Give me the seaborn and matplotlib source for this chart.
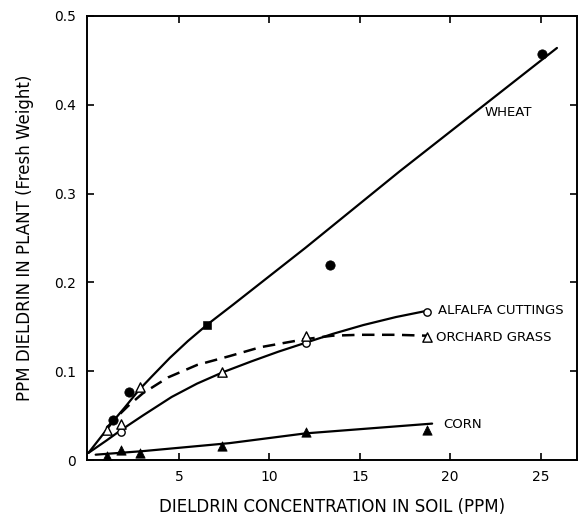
import numpy as np
import pandas as pd
import matplotlib
matplotlib.use("Agg")
import matplotlib.pyplot as plt
import seaborn as sns

# fitted curves
wheat_cx = [0.0, 0.5, 1.0, 1.5, 2.0, 2.8, 3.5, 4.5, 5.5, 6.6, 8.0, 12.0, 17.2, 25.9]
wheat_cy = [0.008, 0.021, 0.034, 0.047, 0.059, 0.079, 0.094, 0.115, 0.134, 0.153, 0.175, 0.239, 0.325, 0.464]
alfalfa_cx = [0.0, 1.0, 1.75, 3.0, 4.6, 6.0, 7.45, 9.0, 10.5, 12.0, 13.5, 15.2, 17.0, 18.7]
alfalfa_cy = [0.008, 0.022, 0.033, 0.050, 0.071, 0.086, 0.099, 0.111, 0.122, 0.132, 0.142, 0.152, 0.161, 0.168]
orchard_cx = [1.0, 1.5, 2.2, 3.0, 4.4, 6.0, 7.8, 9.5, 11.95, 13.5, 15.0, 17.0, 18.7]
orchard_cy = [0.036, 0.047, 0.061, 0.075, 0.093, 0.107, 0.117, 0.127, 0.136, 0.140, 0.141, 0.141, 0.140]
corn_cx = [0.4, 3.0, 7.8, 12.0, 19.0]
corn_cy = [0.006, 0.010, 0.019, 0.030, 0.041]

# measured points
wheat_x = [1.35, 2.25, 13.35, 25.1]
wheat_y = [0.045, 0.077, 0.220, 0.457]
wheat_sq_x = [6.55]
wheat_sq_y = [0.152]
alfalfa_x = [1.8, 12.05, 18.7]
alfalfa_y = [0.031, 0.132, 0.167]
orchard_x = [1.0, 1.8, 2.85, 7.4, 12.05, 18.7]
orchard_y = [0.034, 0.040, 0.082, 0.099, 0.140, 0.138]
corn_x = [1.0, 1.8, 2.85, 7.4, 12.0, 18.7]
corn_y = [0.005, 0.011, 0.008, 0.016, 0.032, 0.034]

labels = ["WHEAT", "ALFALFA CUTTINGS", "ORCHARD GRASS", "CORN"]
label_x = [21.9, 19.3, 19.2, 19.6]
label_y = [0.391, 0.168, 0.138, 0.040]

sns.set_style("ticks")
plt.rcParams["font.family"] = ["DejaVu Sans"]
plt.rcParams["text.color"] = "black"
plt.rcParams["axes.labelcolor"] = "black"

fig = plt.figure(figsize=(5.78, 5.16), dpi=100)
ax = fig.add_axes([0.1505, 0.1085, 0.8475, 0.8605])

curves = pd.concat([
    pd.DataFrame({"x": wheat_cx, "y": wheat_cy, "crop": "wheat"}),
    pd.DataFrame({"x": alfalfa_cx, "y": alfalfa_cy, "crop": "alfalfa"}),
    pd.DataFrame({"x": corn_cx, "y": corn_cy, "crop": "corn"}),
])
sns.lineplot(data=curves, x="x", y="y", units="crop", estimator=None, sort=False,
             color="black", lw=1.6, ax=ax)
sns.lineplot(x=orchard_cx, y=orchard_cy, color="black", lw=1.8, ax=ax,
             linestyle=(0, (5, 3)))

sns.scatterplot(x=wheat_x, y=wheat_y, marker="o", s=45, color="black",
                edgecolor="black", ax=ax, zorder=5)
sns.scatterplot(x=wheat_sq_x, y=wheat_sq_y, marker="s", s=30, color="black",
                edgecolor="black", ax=ax, zorder=5)
sns.scatterplot(x=alfalfa_x, y=alfalfa_y, marker="o", s=28, color="white",
                edgecolor="black", linewidth=1.0, ax=ax, zorder=5)
sns.scatterplot(x=orchard_x, y=orchard_y, marker="^", s=45, color="white",
                edgecolor="black", linewidth=1.0, ax=ax, zorder=5)
sns.scatterplot(x=corn_x, y=corn_y, marker="^", s=45, color="black",
                edgecolor="black", ax=ax, zorder=5)

for t, lx, ly in zip(labels, label_x, label_y):
    ax.text(lx, ly, t, fontsize=9.5, va="center", ha="left", color="black")

ax.set_xlim(-0.08, 27.0)
ax.set_ylim(0, 0.5)
ax.set_xticks([5, 10, 15, 20, 25])
ax.set_xticklabels(["5", "10", "15", "20", "25"])
ax.set_yticks([0, 0.1, 0.2, 0.3, 0.4, 0.5])
ax.set_yticklabels(["0", "0.1", "0.2", "0.3", "0.4", "0.5"])
ax.tick_params(direction="in", length=5, width=1.2, top=True, right=True,
               labelsize=10, colors="black")
ax.tick_params(axis="x", pad=7)
ax.tick_params(axis="y", pad=8)
for sp in ax.spines.values():
    sp.set_linewidth(1.4)
    sp.set_color("black")

ax.set_xlabel("DIELDRIN CONCENTRATION IN SOIL (PPM)", fontsize=12, labelpad=10)
ax.set_ylabel("PPM DIELDRIN IN PLANT (Fresh Weight)", fontsize=12, labelpad=14)

fig.savefig("out.png", dpi=100)
